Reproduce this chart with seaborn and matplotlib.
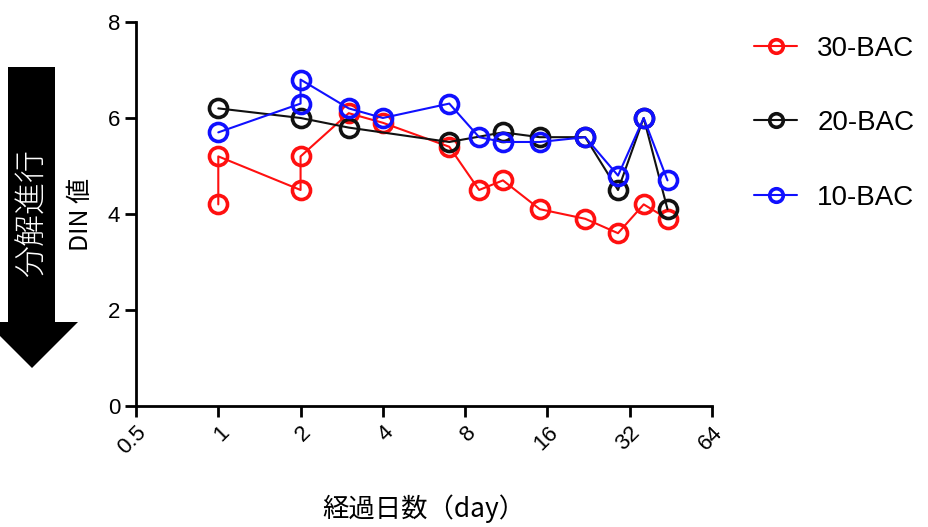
import matplotlib
matplotlib.use("Agg")
import matplotlib.pyplot as plt
from matplotlib.patches import Polygon
import seaborn as sns
import pandas as pd

# Elapsed days and DIN values for each BAC condition (measurement order)
days_30 = [1, 1, 2, 2, 3, 4, 7, 9, 11, 15, 22, 29, 36, 44]
din_30 = [4.2, 5.2, 4.5, 5.2, 6.1, 5.9, 5.4, 4.5, 4.7, 4.1, 3.9, 3.6, 4.2, 3.9]

days_20 = [1, 2, 3, 7, 11, 15, 22, 29, 36, 44]
din_20 = [6.2, 6.0, 5.8, 5.5, 5.7, 5.6, 5.6, 4.5, 6.0, 4.1]

days_10 = [1, 2, 2, 3, 4, 7, 9, 11, 15, 22, 29, 36, 44]
din_10 = [5.7, 6.3, 6.8, 6.2, 6.0, 6.3, 5.6, 5.5, 5.5, 5.6, 4.8, 6.0, 4.7]

series_names = ["30-BAC", "20-BAC", "10-BAC"]
series_colors = ["#ff1010", "#111111", "#1010ff"]

x_ticks = [0.5, 1, 2, 4, 8, 16, 32, 64]
x_tick_labels = ["0.5", "1", "2", "4", "8", "16", "32", "64"]
y_ticks = [0, 2, 4, 6, 8]

sns.set_theme(style="ticks")
plt.rcParams["font.family"] = ["Liberation Sans", "Noto Sans CJK JP", "DejaVu Sans"]
plt.rcParams["text.color"] = "black"
plt.rcParams["axes.labelcolor"] = "black"
cjk = ["Noto Sans CJK JP", "DejaVu Sans"]

fig = plt.figure(figsize=(9.29, 5.27), dpi=100)
ax = fig.add_axes([0.1464, 0.2296, 0.62, 0.7287])
ax.set_xscale("log", base=2)

frames = []
for name, d, v in zip(series_names, [days_30, days_20, days_10], [din_30, din_20, din_10]):
    frames.append(pd.DataFrame({"day": d, "din": v, "series": name}))

for name, color, df in zip(series_names, series_colors, frames):
    sns.lineplot(data=df, x="day", y="din", ax=ax, sort=False, estimator=None,
                 color=color, linewidth=1.5, marker="o", markersize=13,
                 markerfacecolor="none", markeredgecolor=color,
                 markeredgewidth=2.6, label=name)

ax.set_xlim(0.5, 64)
ax.set_ylim(0, 8)
ax.set_xticks(x_ticks)
ax.set_xticklabels(x_tick_labels, rotation=45, ha="right", rotation_mode="anchor")
ax.minorticks_off()
ax.set_yticks(y_ticks)
ax.tick_params(axis="both", labelsize=16, width=2, length=8, color="black",
               labelcolor="black")
for side in ["left", "bottom"]:
    ax.spines[side].set_linewidth(2)
    ax.spines[side].set_color("black")
sns.despine(ax=ax)

ax.set_xlabel("経過日数（day）", fontsize=19, family=cjk, labelpad=26)
ax.set_ylabel("DIN 値", fontsize=18, family=cjk, labelpad=10)

leg = ax.legend(loc="upper left", bbox_to_anchor=(0.785, 0.98),
                bbox_transform=fig.transFigure, frameon=False, fontsize=20,
                labelspacing=1.75, handlelength=1.55, handletextpad=0.72,
                markerscale=0.75)
for t in leg.get_texts():
    t.set_color("black")

# Downward arrow showing the direction of decomposition
arrow_pts = [(8, 67), (55, 67), (55, 322), (78, 322), (32, 368), (-14, 322), (8, 322)]
fig.patches.append(Polygon([(x / 929, 1 - y / 527) for x, y in arrow_pts],
                           closed=True, facecolor="black", edgecolor="none",
                           transform=fig.transFigure))
fig.text(32 / 929, 1 - 213 / 527, "分解進行", color="white", rotation=90,
         ha="center", va="center", fontsize=23, family=cjk, fontweight="light")

fig.savefig("out.png", dpi=100)
